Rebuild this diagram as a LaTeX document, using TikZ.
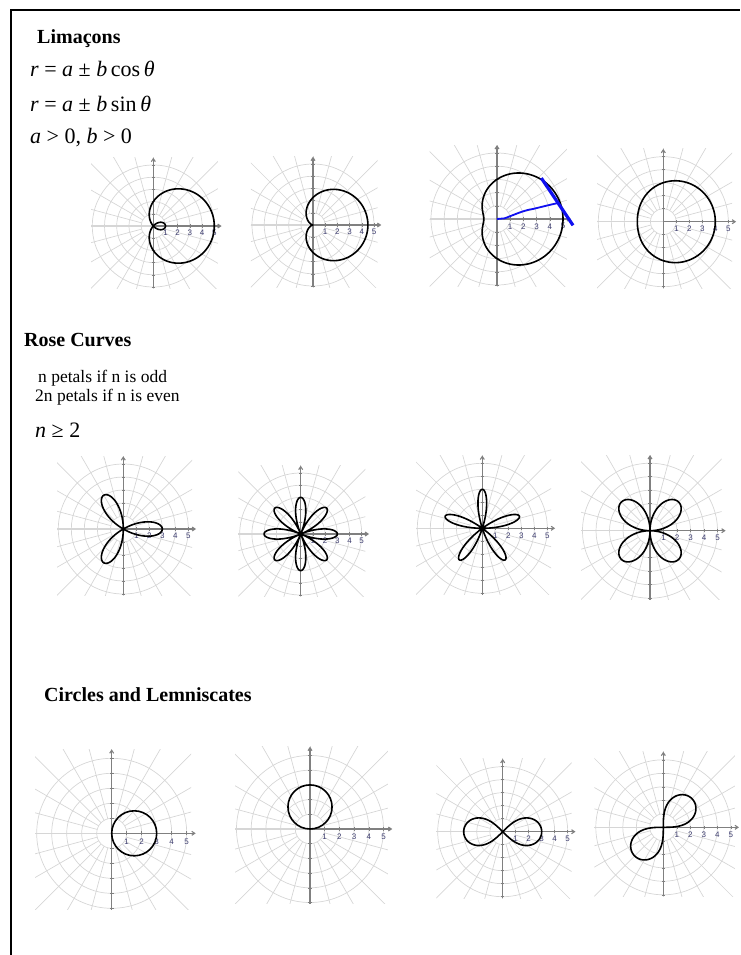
\documentclass[tikz,border=0pt]{standalone}
\usepackage{fontspec}
\setmainfont{Liberation Serif}
\newfontfamily\ticksf{Liberation Sans}
\definecolor{tickblue}{HTML}{3C3C6E}
\definecolor{penblue}{HTML}{1010F0}
\usepackage{tikz}
\usetikzlibrary{arrows.meta, positioning, calc}

% polar grid, drawn in plot units around the origin
\newcommand{\polgrid}{%
  \begin{scope}
    \clip (-5.1,-5.1) rectangle (5.3,5.6);
    \foreach \rr in {1,...,5} \draw[gridln] (0,0) circle (\rr);
    \foreach \aa in {0,15,...,345} \draw[gridln] (\aa:1) -- (\aa:9);
  \end{scope}
  \draw[gridln, line width=1.5pt] (-5.1,0) -- (0,0);
  \draw[axln, -{Straight Barb[length=3pt, width=4pt]}] (0,0) -- (5.6,0);
  \draw[axln, -{Straight Barb[length=3pt, width=4pt]}] (0,-5.1) -- (0,5.6);
  \foreach \k in {1,...,5} {
    \draw[axln, line width=.5pt] (\k,-.13) -- (\k,.13);
    \node[ticklbl] (tk\k) at (\k,-.55) {\k};
  }
  \foreach \k in {-5,-4,-3,-2,-1,1,2,3,4,5}
    \draw[axln, line width=.5pt] (-.13,\k) -- (.13,\k);
}

\begin{document}
\begin{tikzpicture}[x=1pt, y=-1pt,
    gridln/.style={draw=gray!32, line width=0.7pt},
    axln/.style={draw=gray, line width=1.1pt},
    ticklbl/.style={font=\ticksf\fontsize{8}{9}\selectfont, text=tickblue, inner sep=0pt},
    curv/.style={draw=black, line width=1.6pt, line join=round},
    head/.style={font=\fontsize{20}{24}\selectfont\bfseries, anchor=base west, inner sep=0pt},
    txt/.style={font=\fontsize{17.5}{20}\selectfont, anchor=base west, inner sep=0pt},
    mth/.style={font=\fontsize{22}{26}\selectfont, anchor=base west, inner sep=0pt}
  ]
  \useasboundingbox (0,0) rectangle (740,955);
  \draw[line width=2.2pt] (11,955) -- (11,10) -- (740,10);

  % Limacons
  \node[head] (hlim) at (37,44) {Limaçons};
  \node[mth] (eqcos) at (30,77) {\textit{r} = \textit{a} ± \textit{b}\,cos\,\textit{θ}};
  \node[mth] (eqsin) at (30,112) {\textit{r} = \textit{a} ± \textit{b}\,sin\,\textit{θ}};
  \node[mth] (eqab) at (30,143) {\textit{a} > 0, \textit{b} > 0};

  \begin{scope}[shift={(153.3pt,-226pt)}, x=12.2pt, y=12.2pt]
    \polgrid
    \draw[curv] plot[domain=0:360, samples=240] (\x:{2+3*cos(\x)});
  \end{scope}
  \begin{scope}[shift={(313pt,-225pt)}, x=12.2pt, y=12.2pt]
    \polgrid
    \draw[curv] plot[domain=0:360, samples=240] (\x:{2.25+2.25*cos(\x)});
  \end{scope}
  \begin{scope}[shift={(497pt,-219pt)}, x=13.2pt, y=13.2pt]
    \polgrid
    \draw[curv] plot[domain=0:360, samples=240] (\x:{3+2*cos(\x)});
    \draw[penblue, line width=1.8pt] (0,0) -- (0.58,0.05)
      .. controls (1.5,0.4) and (2.0,0.65) .. (2.73,0.76)
      .. controls (3.5,0.95) and (4.1,1.1) .. (4.62,1.21);
    \draw[penblue, line width=3.2pt] (3.36,3.1) -- (5.76,-0.48);
  \end{scope}
  \begin{scope}[shift={(663.3pt,-221.7pt)}, x=13pt, y=13pt]
    \polgrid
    \draw[curv] plot[domain=0:360, samples=240] (\x:{3+cos(\x)});
  \end{scope}

  % Rose curves
  \node[head] (hrose) at (24,346) {Rose Curves};
  \node[txt] (odd) at (38,382) {n petals if n is odd};
  \node[txt] (even) at (35,401) {2n petals if n is even};
  \node[mth] (eqn) at (35,437) {\textit{n} ≥ 2};

  \begin{scope}[shift={(123.3pt,-529pt)}, x=13pt, y=13pt]
    \polgrid
    \draw[curv] plot[domain=0:180, samples=361] (\x:{3*cos(3*\x)});
  \end{scope}
  \begin{scope}[shift={(300.7pt,-534pt)}, x=12.2pt, y=12.2pt]
    \polgrid
    \draw[curv] plot[domain=0:360, samples=721] (\x:{3*cos(4*\x)});
  \end{scope}
  \begin{scope}[shift={(482.3pt,-528.3pt)}, x=13pt, y=13pt]
    \polgrid
    \draw[curv] plot[domain=0:180, samples=541] (\x:{3*sin(5*\x)});
  \end{scope}
  \begin{scope}[shift={(650pt,-530.7pt)}, x=13.5pt, y=13.5pt]
    \polgrid
    \draw[curv] plot[domain=0:360, samples=481] (\x:{3*sin(2*\x)});
  \end{scope}

  % Circles and lemniscates
  \node[head] (hcirc) at (44,701) {Circles and Lemniscates};

  \begin{scope}[shift={(111.7pt,-833.3pt)}, x=15pt, y=15pt]
    \polgrid
    \draw[curv] (1.5,0) circle (1.5);
  \end{scope}
  \begin{scope}[shift={(310pt,-829pt)}, x=14.7pt, y=14.7pt]
    \polgrid
    \draw[curv] (0,1.5) circle (1.5);
  \end{scope}
  \begin{scope}[shift={(502.7pt,-831.7pt)}, x=13pt, y=13pt]
    \polgrid
    \draw[curv] plot[domain=0:360, samples=300]
      ({3*cos(\x)/(1+sin(\x)*sin(\x))}, {3*sin(\x)*cos(\x)/(1+sin(\x)*sin(\x))});
  \end{scope}
  \begin{scope}[shift={(663.3pt,-827.3pt)}, x=13.5pt, y=13.5pt]
    \polgrid
    \draw[curv, rotate=45] plot[domain=0:360, samples=300]
      ({3*cos(\x)/(1+sin(\x)*sin(\x))}, {3*sin(\x)*cos(\x)/(1+sin(\x)*sin(\x))});
  \end{scope}
\end{tikzpicture}
\end{document}
